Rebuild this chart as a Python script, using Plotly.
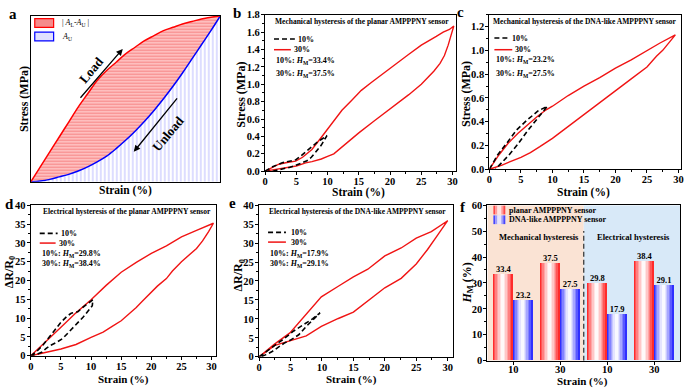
import plotly.graph_objects as go

W, H = 685, 389
FONT = 'Liberation Serif'

# ---------------- data ----------------
# panel a (normalised schematic)
a_strain = [0, 0.05, 0.1, 0.15, 0.2, 0.25, 0.3, 0.35, 0.4, 0.45, 0.5, 0.55, 0.6, 0.65, 0.7, 0.75, 0.8, 0.85, 0.9, 0.95, 1.0]
a_load = [0, 0.09, 0.18, 0.27, 0.36, 0.45, 0.53, 0.61, 0.67, 0.72, 0.77, 0.81, 0.85, 0.88, 0.91, 0.93, 0.95, 0.965, 0.98, 0.99, 1.0]
a_unload = [0, 0.005, 0.015, 0.03, 0.045, 0.065, 0.09, 0.12, 0.155, 0.2, 0.25, 0.305, 0.365, 0.43, 0.5, 0.575, 0.655, 0.74, 0.825, 0.91, 1.0]

# panel b: planar, mechanical
b30_strain = [0, 1, 2.2, 3.5, 4.9, 6, 7.5, 8.8, 10, 11, 12.3, 13.8, 15.4, 17, 18.1, 20.2, 21.5, 22.9, 25, 26, 27.4, 28.5, 29.5, 30.2,
              29.8, 29.3, 28.7, 28, 27, 25, 23, 20, 17.5, 15, 12.5, 11, 10, 9, 7.5, 6.5, 5, 3.5, 2, 0]
b30_stress = [0, 0.04, 0.08, 0.1, 0.115, 0.16, 0.25, 0.37, 0.48, 0.57, 0.7, 0.81, 0.93, 1.02, 1.08, 1.2, 1.27, 1.34, 1.45, 1.49, 1.55, 1.6, 1.63, 1.67,
              1.57, 1.45, 1.33, 1.24, 1.15, 1.0, 0.88, 0.72, 0.58, 0.44, 0.29, 0.2, 0.17, 0.14, 0.11, 0.095, 0.06, 0.04, 0.02, 0]
b10_strain = [0, 1.2, 2.75, 4, 4.9, 5.8, 6.7, 7.5, 8.3, 9.1, 9.9, 9.5, 9, 8.1, 7.4, 6.7, 5.8, 4.9, 4, 3, 2, 1.2, 0.5]
b10_stress = [0, 0.05, 0.097, 0.115, 0.13, 0.18, 0.235, 0.28, 0.33, 0.37, 0.41, 0.36, 0.3, 0.22, 0.16, 0.12, 0.09, 0.067, 0.045, 0.03, 0.012, 0.0, 0]

# panel c: DNA-like, mechanical
c30_strain = [0, 1.5, 3, 4.5, 6, 7.5, 9, 10, 12.5, 15, 17.5, 20, 22.5, 25, 27, 29.5,
              28.5, 27.5, 26.5, 25, 22.5, 20, 17.5, 15, 12.5, 10, 8, 6.5, 5, 3.5, 2, 0]
c30_stress = [0, 0.12, 0.22, 0.3, 0.37, 0.44, 0.5, 0.53, 0.62, 0.7, 0.77, 0.85, 0.92, 1.0, 1.06, 1.13,
              1.06, 1.0, 0.95, 0.86, 0.76, 0.66, 0.56, 0.46, 0.36, 0.26, 0.19, 0.14, 0.1, 0.065, 0.035, 0]
c10_strain = [0, 1.3, 2.9, 4.3, 5.9, 7.7, 9.2, 8.3, 7.4, 6, 4.5, 3.1, 1.5, 1]
c10_stress = [0, 0.12, 0.23, 0.33, 0.41, 0.49, 0.53, 0.47, 0.42, 0.32, 0.21, 0.12, 0.03, 0]

# panel d: planar, electrical
d30_strain = [0, 2.5, 5, 7.5, 10, 12.5, 15, 17.5, 20, 22.5, 25, 27.5, 30.3,
              29.5, 28.5, 27.5, 26, 25, 23.5, 22.5, 21, 20, 18.5, 17.5, 16, 15, 13.5, 12, 10, 9, 7.5, 5, 2.5, 0]
d30_resp = [0, 3.7, 7.6, 11.4, 14.9, 18.7, 22.2, 24.8, 27.2, 29.2, 31.6, 33.3, 35.2,
            33, 30.5, 28.5, 26.5, 25, 22.5, 20.5, 18.5, 17, 14.5, 12.8, 10.8, 9.3, 7.8, 6.3, 4.9, 4.2, 3, 1.8, 0.9, 0]
d10_strain = [0, 1, 2, 3, 4, 5, 6, 6.7, 7.4, 7.8, 8.9, 10, 10.3, 10.2, 9.5, 8.7, 7.8, 6.8, 6, 5.3, 4.3, 3.3, 2.5, 1.9, 1, 0]
d10_resp = [0, 1.2, 2.8, 4.8, 6.8, 8.9, 10.5, 11.3, 11.6, 11.7, 13.2, 14.5, 14.9, 13.3, 11.8, 10.3, 8.8, 7.1, 5.8, 4.6, 3.6, 2.8, 1.9, 1.0, 0.4, 0]

# panel e: DNA-like, electrical
e30_strain = [0, 2.5, 4.9, 7.3, 9.9, 12.6, 15, 17.3, 20, 22.6, 25, 27.4, 30,
              28.4, 26.8, 25, 22.6, 20, 17.3, 15, 12.6, 9.9, 7.5, 4.9, 2.5, 0]
e30_resp = [0, 3.4, 6.3, 11, 15.8, 18.6, 21.1, 23.1, 26.6, 28.7, 31.3, 33, 35.9,
            32.1, 28.3, 24.5, 20.7, 18.2, 14.8, 11.8, 10.1, 8.0, 5.5, 4.2, 3.0, 0]
e10_strain = [0, 2, 4, 5.5, 7, 8.5, 9.7, 8.7, 7.5, 6.3, 5, 4, 3, 2, 1, 0.3]
e10_resp = [0, 2.3, 4.8, 6.8, 8.3, 10.0, 11.6, 10, 8.0, 5.8, 4.4, 3.6, 2.4, 1.3, 0.5, 0]

# panel f: hysteresis summary
f_pos = [1, 2, 3, 4]
f_ticks = ['10', '30', '10', '30']
f_planar = [33.4, 37.5, 29.8, 38.4]
f_dna = [23.2, 27.5, 17.9, 29.1]

# ---------------- helpers ----------------
def px(x):
    return x / W


def py(y):
    return 1 - y / H


def axis_style(**kw):
    d = dict(showline=True, linecolor='black', linewidth=1.3, mirror=True,
             ticks='outside', ticklen=3, tickwidth=1.2, tickcolor='black',
             showgrid=False, zeroline=False,
             tickfont=dict(family=FONT, size=10.5, color='black', weight='bold'))
    d.update(kw)
    return d


def xax(standoff=-3, **kw):
    return axis_style(ticklabelstandoff=standoff, **kw)


def yax(**kw):
    return axis_style(ticklabelstandoff=-1, **kw)


MINOR = dict(ticks='outside', ticklen=2, tickwidth=1, tickcolor='black')

annotations = []
shapes = []


def txt(x, y, s, size=8, xanchor='left', yanchor='middle', angle=0, bold=True, xref='paper', yref='paper'):
    annotations.append(dict(
        x=px(x) if xref == 'paper' else x, y=py(y) if yref == 'paper' else y,
        xref=xref, yref=yref, text=s, showarrow=False, xanchor=xanchor, yanchor=yanchor,
        textangle=angle,
        font=dict(family=FONT, size=size, color='black', weight='bold' if bold else 'normal')))


def key_line(x0, x1, y, color, dash='solid', width=1.5):
    shapes.append(dict(type='line', xref='paper', yref='paper', x0=px(x0), x1=px(x1), y0=py(y), y1=py(y),
                       line=dict(color=color, width=width, dash=dash)))


fig = go.Figure()

# ---------------- panel a ----------------
fig.add_trace(go.Scatter(x=a_strain, y=a_unload, mode='lines', line=dict(color='blue', width=1.5, shape='spline'),
                         fill='tozeroy', fillcolor='white',
                         fillpattern=dict(shape='|', fgcolor='rgba(70,70,255,0.75)', bgcolor='white', size=4, solidity=0.25),
                         xaxis='x', yaxis='y', showlegend=False))
fig.add_trace(go.Scatter(x=a_strain, y=a_load, mode='lines', line=dict(color='red', width=1.5, shape='spline'),
                         fill='tonexty',
                         fillpattern=dict(shape='-', fgcolor='rgb(240,70,70)', bgcolor='rgb(255,200,200)', size=3, solidity=0.45),
                         xaxis='x', yaxis='y', showlegend=False))
annotations.append(dict(x=0.485, y=0.80, ax=0.255, ay=0.497, xref='x', yref='y', axref='x', ayref='y',
                        text='', showarrow=True, arrowhead=2, arrowsize=1, arrowwidth=1.3, arrowcolor='black'))
annotations.append(dict(x=0.543, y=0.181, ax=0.778, ay=0.511, xref='x', yref='y', axref='x', ayref='y',
                        text='', showarrow=True, arrowhead=2, arrowsize=1, arrowwidth=1.3, arrowcolor='black'))
txt(0.32, 0.678, 'Load', size=13, xanchor='center', angle=-50, xref='x', yref='y')
txt(0.726, 0.288, 'Unload', size=13, xanchor='center', angle=-50, xref='x', yref='y')
# legend keys of panel a
shapes.append(dict(type='rect', xref='paper', yref='paper', x0=px(32), x1=px(51), y0=py(23), y1=py(14),
                   fillcolor='rgb(245,140,140)', line=dict(color='red', width=1.2)))
shapes.append(dict(type='rect', xref='paper', yref='paper', x0=px(32), x1=px(51), y0=py(37), y1=py(28),
                   fillcolor='rgb(225,225,255)', line=dict(color='blue', width=1.2)))
txt(57, 18.5, '| <i>A</i><sub>L</sub>-<i>A</i><sub>U</sub> |', size=8, bold=False)
txt(57, 32.5, '<i>A</i><sub>U</sub>', size=8, bold=False)

# ---------------- panels b-e ----------------
RED = 'rgb(240,20,20)'
DASH = '5px,3px'
panels = [
    ('x2', 'y2', b10_strain, b10_stress, b30_strain, b30_stress),
    ('x3', 'y3', c10_strain, c10_stress, c30_strain, c30_stress),
    ('x4', 'y4', d10_strain, d10_resp, d30_strain, d30_resp),
    ('x5', 'y5', e10_strain, e10_resp, e30_strain, e30_resp),
]
for xa, ya, sx10, sy10, sx30, sy30 in panels:
    fig.add_trace(go.Scatter(x=sx30, y=sy30, mode='lines', line=dict(color=RED, width=1.4),
                             xaxis=xa, yaxis=ya, showlegend=False))
    fig.add_trace(go.Scatter(x=sx10, y=sy10, mode='lines', line=dict(color='black', width=1.6, dash=DASH),
                             xaxis=xa, yaxis=ya, showlegend=False))

# ---------------- panel f ----------------
BW = 0.42
N = 14
for i in range(N):
    t = (i + 0.5) / N
    k = abs(2 * t - 1) ** 1.4
    rc = 'rgb(255,%d,%d)' % (int(255 - 235 * k), int(255 - 235 * k))
    bc = 'rgb(%d,%d,255)' % (int(255 - 230 * k), int(255 - 230 * k))
    fig.add_trace(go.Bar(x=f_pos, y=f_planar, width=BW / N, offset=-BW + i * BW / N, marker=dict(color=rc, line=dict(width=0)),
                         xaxis='x6', yaxis='y6', showlegend=False, hoverinfo='skip'))
    fig.add_trace(go.Bar(x=f_pos, y=f_dna, width=BW / N, offset=i * BW / N, marker=dict(color=bc, line=dict(width=0)),
                         xaxis='x6', yaxis='y6', showlegend=False, hoverinfo='skip'))
fig.add_trace(go.Scatter(x=[p - BW / 2 for p in f_pos], y=f_planar, mode='text', text=['%.1f' % v for v in f_planar],
                         textposition='top center', textfont=dict(family=FONT, size=8.5, color='black', weight='bold'),
                         xaxis='x6', yaxis='y6', showlegend=False, cliponaxis=False))
fig.add_trace(go.Scatter(x=[p + BW / 2 for p in f_pos], y=f_dna, mode='text', text=['%.1f' % v for v in f_dna],
                         textposition='top center', textfont=dict(family=FONT, size=8.5, color='black', weight='bold'),
                         xaxis='x6', yaxis='y6', showlegend=False, cliponaxis=False))
shapes.append(dict(type='rect', xref='x6', yref='y6', x0=0.45, x1=2.5, y0=0, y1=60, layer='below',
                   fillcolor='rgb(250,227,212)', line=dict(width=0)))
shapes.append(dict(type='rect', xref='x6', yref='y6', x0=2.5, x1=4.55, y0=0, y1=60, layer='below',
                   fillcolor='rgb(216,233,248)', line=dict(width=0)))
shapes.append(dict(type='line', xref='x6', yref='y6', x0=2.5, x1=2.5, y0=0, y1=50,
                   line=dict(color='rgb(60,60,60)', width=1.3, dash='5px,3px')))
# f legend keys (gradient strips)
for j, (base, yk) in enumerate([('r', 211), ('b', 221)]):
    for i in range(6):
        t = (i + 0.5) / 6
        k = abs(2 * t - 1) ** 1.2
        v = int(255 - 230 * k)
        col = 'rgb(255,%d,%d)' % (v, v) if base == 'r' else 'rgb(%d,%d,255)' % (v, v)
        shapes.append(dict(type='rect', xref='paper', yref='paper', x0=px(494 + i * 2), x1=px(496 + i * 2),
                           y0=py(yk + 4.5), y1=py(yk - 4.5), fillcolor=col, line=dict(width=0)))
txt(508, 211, 'planar AMPPPNY sensor', size=8)
txt(508, 221, 'DNA-like AMPPPNY sensor', size=8)
txt(540, 239, 'Mechanical hysteresis', size=8.5, xanchor='center')
txt(635, 239, 'Electrical hysteresis', size=8.5, xanchor='center')

# ---------------- keys & notes for b-e ----------------
txt(362, 17, 'Mechanical hysteresis of the planar AMPPPNY sensor', size=7.5, xanchor='center')
key_line(273, 294, 35, 'black', DASH, 1.6)
txt(295, 35, '10%', size=8)
key_line(273, 290, 46, RED)
txt(291, 46, '30%', size=8)
txt(273, 58, '10%: <i>H</i><sub>M</sub>=33.4%', size=8)
txt(273, 71, '30%: <i>H</i><sub>M</sub>=37.5%', size=8)

txt(586, 17, 'Mechanical hysteresis of the DNA-like AMPPPNY sensor', size=7.5, xanchor='center')
key_line(495, 510, 34, 'black', DASH, 1.6)
txt(511, 34, '10%', size=8)
key_line(495, 513, 46, RED)
txt(514, 46, '30%', size=8)
txt(495, 57, '10%: <i>H</i><sub>M</sub>=23.2%', size=8)
txt(495, 71, '30%: <i>H</i><sub>M</sub>=27.5%', size=8)

txt(125, 212, 'Electrical hysteresis of the planar AMPPPNY sensor', size=7.5, xanchor='center')
key_line(37, 55, 235, 'black', DASH, 1.6)
txt(56, 235, '10%', size=8)
key_line(37, 53, 245, RED)
txt(54, 245, '30%', size=8)
txt(37, 256, '10%: <i>H</i><sub>M</sub>=29.8%', size=8)
txt(37, 267, '30%: <i>H</i><sub>M</sub>=38.4%', size=8)

txt(357, 212, 'Electrical hysteresis of the DNA-like AMPPPNY sensor', size=7.5, xanchor='center')
key_line(267, 285, 234, 'black', DASH, 1.6)
txt(288, 234, '10%', size=8)
key_line(267, 285, 244, RED)
txt(288, 244, '30%', size=8)
txt(267, 256, '10%: <i>H</i><sub>M</sub>=17.9%', size=8)
txt(267, 267, '30%: <i>H</i><sub>M</sub>=29.1%', size=8)

# ---------------- axis titles & panel letters ----------------
for cx, cy in [(123, 191), (358, 193), (585, 193)]:
    txt(cx, cy, 'Strain (%)', size=11.5, xanchor='center')
for cx, cy in [(121, 385.5), (351, 385.5), (584, 387)]:
    txt(cx, cy, 'Strain (%)', size=11, xanchor='center')
txt(21, 97, 'Stress (MPa)', size=12, xanchor='center', angle=-90)
txt(240, 92, 'Stress (MPa)', size=12, xanchor='center', angle=-90)
txt(467, 92, 'Stress (MPa)', size=12, xanchor='center', angle=-90)
txt(7, 275, 'ΔR/R<sub>0</sub>', size=12, xanchor='center', angle=-90)
txt(238, 278, 'ΔR/R<sub>0</sub>', size=12, xanchor='center', angle=-90)
txt(468, 286, '<i>H</i><sub>M</sub> (%)', size=12, xanchor='center', angle=-90)
for lx, ly, L in [(10, 9, 'a'), (236, 8, 'b'), (461, 7, 'c'), (7, 205, 'd'), (231, 204, 'e'), (463, 208, 'f')]:
    txt(lx, ly, L, size=15, xanchor='center')

fig.update_layout(
    width=W, height=H, margin=dict(l=0, r=0, t=0, b=0),
    paper_bgcolor='white', plot_bgcolor='white', showlegend=False, barmode='overlay', bargap=0,
    xaxis=axis_style(domain=[px(28), px(219)], range=[0, 1], showticklabels=False, ticks='', anchor='y'),
    yaxis=axis_style(domain=[py(182), py(11)], range=[0, 1], showticklabels=False, ticks='', anchor='x'),
    xaxis2=xax(domain=[px(264), px(456)], range=[0, 30.5], dtick=5, tick0=0, minor=dict(dtick=2.5, **MINOR), anchor='y2'),
    yaxis2=yax(domain=[py(171), py(10)], range=[0, 1.8], dtick=0.2, tick0=0, tickformat='.1f', minor=dict(dtick=0.1, **MINOR), anchor='x2'),
    xaxis3=xax(domain=[px(490), px(683)], range=[0, 30.4], dtick=5, tick0=0, minor=dict(dtick=2.5, **MINOR), anchor='y3'),
    yaxis3=yax(domain=[py(169), py(10)], range=[0, 1.3], dtick=0.2, tick0=0, tickformat='.1f', minor=dict(dtick=0.1, **MINOR), anchor='x3'),
    xaxis4=xax(domain=[px(28), px(215)], range=[0, 30.8], dtick=5, tick0=0, minor=dict(dtick=2.5, **MINOR), anchor='y4'),
    yaxis4=yax(domain=[py(361), py(206)], range=[0, 40], dtick=5, tick0=0, minor=dict(dtick=2.5, **MINOR), anchor='x4'),
    xaxis5=xax(domain=[px(258), px(453)], range=[0, 30.8], dtick=5, tick0=0, minor=dict(dtick=2.5, **MINOR), anchor='y5'),
    yaxis5=yax(domain=[py(362), py(206)], range=[0, 40], dtick=5, tick0=0, minor=dict(dtick=2.5, **MINOR), anchor='x5'),
    xaxis6=xax(standoff=-4, domain=[px(488), px(682)], range=[0.45, 4.55], tickvals=f_pos, ticktext=f_ticks, anchor='y6'),
    yaxis6=yax(domain=[py(366), py(206)], range=[0, 60], dtick=10, tick0=0, minor=dict(dtick=5, **MINOR), anchor='x6'),
    annotations=annotations, shapes=shapes,
)

fig.write_html('out.html', config={'displayModeBar': False},
               post_script="document.body.style.margin='0';document.body.style.overflow='hidden';")
